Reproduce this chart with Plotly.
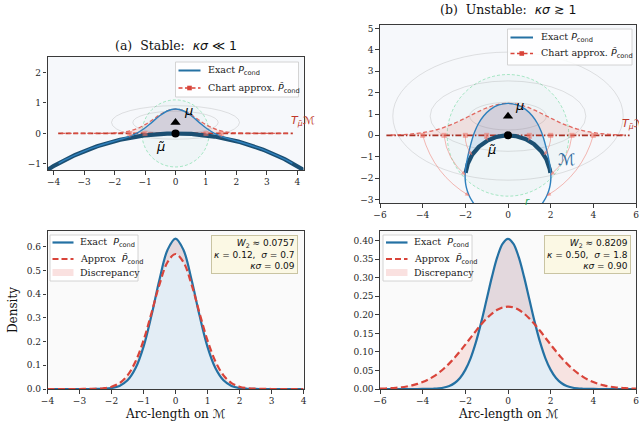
import numpy as np
import plotly.graph_objects as go

W, H = 639, 428

# ------------------------------------------------------------------ data
arc_a = np.arange(-4, 4.001, 0.25)
exact_a = [0, 0, 0, 0, 0, 0, 0.0002, 0.0011, 0.0040, 0.0130, 0.0366, 0.0874, 0.178, 0.311, 0.462, 0.587,
           0.635,
           0.587, 0.462, 0.311, 0.178, 0.0874, 0.0366, 0.0130, 0.0040, 0.0011, 0.0002, 0, 0, 0, 0, 0, 0]
approx_a = [0, 0, 0, 0, 0.0001, 0.0003, 0.0010, 0.0033, 0.0096, 0.0250, 0.0574, 0.116, 0.205, 0.321, 0.442, 0.535,
            0.570,
            0.535, 0.442, 0.321, 0.205, 0.116, 0.0574, 0.0250, 0.0096, 0.0033, 0.0010, 0.0003, 0.0001, 0, 0, 0, 0]

arc_b = np.arange(-6, 6.001, 0.25)
exact_b = [0, 0, 0, 0, 0, 0, 0, 0, 0.0001, 0.0003, 0.0007, 0.0017, 0.0039, 0.0082, 0.0162, 0.0298, 0.0515,
           0.0835, 0.127, 0.181, 0.242, 0.303, 0.356, 0.392,
           0.405,
           0.392, 0.356, 0.303, 0.242, 0.181, 0.127, 0.0835, 0.0515, 0.0298, 0.0162, 0.0082, 0.0039, 0.0017,
           0.0007, 0.0003, 0.0001, 0, 0, 0, 0, 0, 0, 0, 0]
approx_b = [0.0009, 0.0014, 0.0021, 0.0032, 0.0047, 0.0068, 0.0098, 0.0137, 0.0188, 0.0253, 0.0335, 0.0435,
            0.0554, 0.0691, 0.0846, 0.1016, 0.1197, 0.1384, 0.1569, 0.1744, 0.1903, 0.2035, 0.2136, 0.2199,
            0.222,
            0.2199, 0.2136, 0.2035, 0.1903, 0.1744, 0.1569, 0.1384, 0.1197, 0.1016, 0.0846, 0.0691, 0.0554,
            0.0435, 0.0335, 0.0253, 0.0188, 0.0137, 0.0098, 0.0068, 0.0047, 0.0032, 0.0021, 0.0014, 0.0009]

kappa = [0.125, 0.50]
sigma = [0.7, 1.8]
w2 = [0.0757, 0.8209]
titles = ["(a)  Stable:  ", "(b)  Unstable:  "]
title_sym = ["≪", "≳"]
bump_height = [0.8, 1.5]
mu_height = [0.36, 0.9]
chart_radius = [1.1, 2.85]
contours_a = [(2.1, 0.55), (1.4, 0.37)]
contours_b = [(5.4, 3.0), (3.65, 1.65), (1.8, 0.65)]
tangent_half = [3.85, 5.7]
tangent_pts_a = [-1.5, -1.0, 1.0, 1.5]
tangent_pts_b = [-4, -3, -2, -1, 1, 2, 3, 4]
manifold_half_arc = [5.0, 2.9]

# ------------------------------------------------------------------ style
SERIF = "DejaVu Serif"
SANS = "DejaVu Sans"
C_MAN = "#1b4f72"
C_EXACT = "#2e80bd"
C_EXACT_B = "#2471a3"
C_APPROX = "#d9443a"
C_TAN = ["#c0392b", "#a93226"]
C_ARROW = "rgba(236,112,99,0.55)"


def m(s, italic=True):
    t = f"<i>{s}</i>" if italic else s
    return f'<span style="font-family:{SANS}">{t}</span>'


def px(x):
    return x / W


def py(y):
    return 1 - y / H


fig = go.Figure()
shapes = []
legend_shapes = []
annos = []

dom_x = [[px(47.5), px(303.5)], [px(380), px(636)]]
dom_top = [[py(170), py(57)], [py(203), py(25)]]
dom_bot = [py(389), py(231)]


def top_panel(i, xa, ya, arc, exact, approx, contours, tpts):
    R = 1.0 / kappa[i]
    s = np.asarray(arc, float)
    ex = np.asarray(exact, float)
    ap = np.asarray(approx, float)
    h_ex = bump_height[i] * ex / ex.max()
    h_ap = bump_height[i] * ap / ap.max()
    th = s / R
    off_x = (R + h_ex) * np.sin(th)
    off_y = -R + (R + h_ex) * np.cos(th)
    man_x = R * np.sin(th)
    man_y = -R + R * np.cos(th)
    kw = dict(xaxis=xa, yaxis=ya, hoverinfo="skip", showlegend=False)
    xr, yr = xa, ya

    shapes.append(dict(type="rect", xref=f"{xr} domain", yref=f"{yr} domain", x0=0, x1=1, y0=0, y1=1,
                       fillcolor="#f6f8fb", line=dict(width=0), layer="below"))
    r = chart_radius[i]
    shapes.append(dict(type="circle", xref=xr, yref=yr, x0=-r, x1=r, y0=-r, y1=r,
                       line=dict(color="rgba(46,204,113,0.45)", width=0.9, dash="3px,2px"),
                       fillcolor="rgba(130,210,180,0.06)", layer="below"))
    for a, b in contours:
        shapes.append(dict(type="circle", xref=xr, yref=yr, x0=-a, x1=a,
                           y0=mu_height[i] - b, y1=mu_height[i] + b,
                           line=dict(color="rgba(140,140,140,0.3)", width=0.8), layer="below"))

    mt = np.abs(s) <= tangent_half[i]
    fig.add_trace(go.Scatter(x=s[mt], y=h_ap[mt], mode="none", fill="tozeroy",
                             fillcolor="rgba(231,76,60,0.13)", **kw))
    fig.add_trace(go.Scatter(x=np.r_[off_x, man_x[::-1]], y=np.r_[off_y, man_y[::-1]], mode="none",
                             fill="toself", fillcolor="rgba(52,120,200,0.14)", **kw))

    th_ = tangent_half[i]
    fig.add_trace(go.Scatter(x=[-th_, th_], y=[0, 0], mode="lines",
                             line=dict(color=C_TAN[i], width=1.6,
                                       dash="5px,2.5px" if i == 0 else "6px,2px,1.5px,2px"), **kw))
    fig.add_trace(go.Scatter(x=s[mt], y=h_ap[mt], mode="lines",
                             line=dict(color="rgba(222,80,70,0.85)", width=1.3, dash="4px,2.5px",
                                       shape="spline"), **kw))

    tt = np.linspace(-manifold_half_arc[i] / R, manifold_half_arc[i] / R, 200)
    fig.add_trace(go.Scatter(x=R * np.sin(tt), y=-R + R * np.cos(tt), mode="lines",
                             line=dict(color=C_MAN, width=4.2), **kw))
    fig.add_trace(go.Scatter(x=off_x, y=off_y, mode="lines",
                             line=dict(color=C_EXACT, width=1.4, shape="spline"), **kw))

    for t in tpts:
        x0, y0 = t, 0.0
        x1, y1 = R * np.sin(t / R), -R + R * np.cos(t / R)
        dx, dy = x1 - x0, y1 - y0
        f = -0.2 * np.sign(t)
        cx, cy = (x0 + x1) / 2 + f * dy, (y0 + y1) / 2 - f * dx
        shapes.append(dict(type="path", xref=xr, yref=yr,
                           path=f"M {x0},{y0} Q {cx},{cy} {x1},{y1}",
                           line=dict(color=C_ARROW, width=0.9), layer="above"))
        ux, uy = x1 - cx, y1 - cy
        n = np.hypot(ux, uy)
        L = min(0.3, n)
        annos.append(dict(x=x1, y=y1, ax=x1 - ux / n * L, ay=y1 - uy / n * L, xref=xr, yref=yr,
                          axref=xr, ayref=yr, text="", showarrow=True, arrowhead=2, arrowsize=0.9,
                          arrowwidth=0.9, arrowcolor=C_ARROW, standoff=0))
    fig.add_trace(go.Scatter(x=tpts, y=[0] * len(tpts), mode="markers",
                             marker=dict(symbol="square", size=5, color="rgba(236,112,99,0.55)",
                                         line=dict(width=0)), **kw))

    fig.add_trace(go.Scatter(x=[0], y=[0], mode="markers", marker=dict(color="black", size=8), **kw))
    fig.add_trace(go.Scatter(x=[0], y=[mu_height[i]], mode="markers",
                             marker=dict(color="black", size=9, symbol="triangle-up"), **kw))


top_panel(0, "x", "y", arc_a, exact_a, approx_a, contours_a, tangent_pts_a)
top_panel(1, "x2", "y2", arc_b, exact_b, approx_b, contours_b, tangent_pts_b)

lab = [
    ("x", "y", 0.42, 0.75, m("μ"), "black", 13, "center"),
    ("x", "y", -0.5, -0.42, m("μ̃"), "black", 13, "center"),
    ("x", "y", 4.33, -0.74, m("ℳ", False), "#2e6b9e", 16, "center"),
    ("x", "y", 3.72, 0.4, m("T") + m("<sub>μ̃</sub>") + m("ℳ", False), "#c0392b", 11, "left"),
    ("x", "y", 0.5, -1.36, m("r"), "#27ae60", 10, "center"),
    ("x2", "y2", 0.55, 1.4, m("μ"), "black", 13, "center"),
    ("x2", "y2", -0.78, -0.68, m("μ̃"), "black", 13, "center"),
    ("x2", "y2", 2.75, -1.14, m("ℳ", False), "#2e6b9e", 16, "center"),
    ("x2", "y2", 5.25, 0.55, m("T") + m("<sub>μ̃</sub>") + m("ℳ", False), "#c0392b", 11, "left"),
    ("x2", "y2", 0.92, -3.1, m("r"), "#27ae60", 10, "center"),
]
for xr, yr, x, y, t, c, sz, xan in lab:
    annos.append(dict(x=x, y=y, xref=xr, yref=yr, text=t, showarrow=False, xanchor=xan, yanchor="middle",
                      font=dict(color=c, size=sz, family=SANS)))


def bottom_panel(i, xa, ya, arc, exact, approx):
    kw = dict(xaxis=xa, yaxis=ya, hoverinfo="skip", showlegend=False)
    fig.add_trace(go.Scatter(x=arc, y=exact, mode="none", fill="tozeroy",
                             fillcolor="rgba(93,160,220,0.14)", line=dict(shape="spline"), **kw))
    fig.add_trace(go.Scatter(x=arc, y=approx, mode="none", fill="tonexty",
                             fillcolor="rgba(231,76,60,0.13)", line=dict(shape="spline"), **kw))
    fig.add_trace(go.Scatter(x=arc, y=exact, mode="lines",
                             line=dict(color=C_EXACT_B, width=2.2, shape="spline"), **kw))
    fig.add_trace(go.Scatter(x=arc, y=approx, mode="lines",
                             line=dict(color=C_APPROX, width=2.2, dash="7px,3.5px", shape="spline"), **kw))
    x_right = dom_x[i][1] - px(5.5)
    txt = (m("W") + m("<sub>2</sub>", False) + m(f" ≈ {w2[i]:.4f}", False) + "<br>" +
           m("κ") + m(f" = {kappa[i]:.2f},  ", False) + m("σ") + m(f" = {sigma[i]:.1f}", False) + "<br>" +
           m("κσ") + m(f" = {kappa[i] * sigma[i]:.2f}", False))
    annos.append(dict(x=x_right, y=py(235), xref="paper", yref="paper", xanchor="right", yanchor="top",
                      text=txt, align="right", showarrow=False, bgcolor="#fbf8e4", bordercolor="#c9c4a2",
                      borderwidth=1, borderpad=2, font=dict(size=9, family=SANS, color="#111")))


bottom_panel(0, "x3", "y3", arc_a, exact_a, approx_a)
bottom_panel(1, "x4", "y4", arc_b, exact_b, approx_b)


# ------------------------------------------------------------------ hand-built legends (pixel layout)
def legend_box(x0, x1, y0, y1):
    legend_shapes.append(dict(type="rect", xref="paper", yref="paper", x0=px(x0), x1=px(x1), y0=py(y1), y1=py(y0),
                              fillcolor="rgba(255,255,255,0.85)", line=dict(color="#cfcfcf", width=0.9),
                              layer="above"))


def legend_item(kind, lx0, lx1, y, tx, text, width=2.0):
    if kind == "solid":
        legend_shapes.append(dict(type="line", xref="paper", yref="paper", x0=px(lx0), x1=px(lx1), y0=py(y), y1=py(y),
                                  line=dict(color=C_EXACT_B, width=width), layer="above"))
    elif kind in ("dash", "dashsq"):
        legend_shapes.append(dict(type="line", xref="paper", yref="paper", x0=px(lx0), x1=px(lx1), y0=py(y), y1=py(y),
                                  line=dict(color=C_APPROX, width=width,
                                            dash="4px,2.5px" if kind == "dashsq" else "6px,3px"),
                                  layer="above"))
        if kind == "dashsq":
            c = (lx0 + lx1) / 2
            legend_shapes.append(dict(type="rect", xref="paper", yref="paper", x0=px(c - 2.3), x1=px(c + 2.3),
                                      y0=py(y + 2.3), y1=py(y - 2.3), fillcolor=C_APPROX,
                                      line=dict(width=0), layer="above"))
    elif kind == "patch":
        legend_shapes.append(dict(type="rect", xref="paper", yref="paper", x0=px(lx0), x1=px(lx1), y0=py(y + 3.5),
                                  y1=py(y - 3.5), fillcolor="rgba(240,170,165,0.35)", line=dict(width=0),
                                  layer="above"))
    annos.append(dict(x=px(tx), y=py(y), xref="paper", yref="paper", xanchor="left", yanchor="middle",
                      text=text, showarrow=False, font=dict(family=SERIF, size=9.5, color="#222")))


P_EX = m("P") + m("<sub>cond</sub>", False)
P_AP = m("P̂") + m("<sub>cond</sub>", False)

legend_box(175.5, 298.5, 62, 97)
legend_item("solid", 178.5, 200.5, 70.5, 205.5, "Exact " + P_EX, 2.0)
legend_item("dashsq", 178.5, 200.5, 88, 205.5, "Chart approx. " + P_AP, 1.6)
legend_box(507.5, 632, 29, 65)
legend_item("solid", 510.5, 533, 37.5, 538.5, "Exact " + P_EX, 2.0)
legend_item("dashsq", 510.5, 533, 53.5, 538.5, "Chart approx. " + P_AP, 1.6)
legend_box(50, 138, 235, 281)
legend_item("solid", 52.5, 73.5, 242.5, 77.5, "Exact  " + P_EX, 2.2)
legend_item("dash", 52.5, 73.5, 259, 77.5, "Approx  " + P_AP, 2.2)
legend_item("patch", 52.5, 73.5, 272.5, 77.5, "Discrepancy")
legend_box(383, 472, 235, 281)
legend_item("solid", 386, 407.5, 242.5, 411.5, "Exact  " + P_EX, 2.2)
legend_item("dash", 386, 407.5, 259, 411.5, "Approx  " + P_AP, 2.2)
legend_item("patch", 386, 407.5, 272.5, 411.5, "Discrepancy")

# ------------------------------------------------------------------ titles
for i in range(2):
    cx = (dom_x[i][0] + dom_x[i][1]) / 2
    ty = [45, 10][i]
    annos.append(dict(x=cx, y=py(ty), xref="paper", yref="paper", showarrow=False, xanchor="center",
                      yanchor="middle", text=titles[i] + m("κσ") + m(f" {title_sym[i]} 1", False),
                      font=dict(family=SERIF, size=12.5, color="#111")))
    annos.append(dict(x=cx, y=py(414), xref="paper", yref="paper", showarrow=False, xanchor="center",
                      yanchor="middle", text="Arc-length on " + m("ℳ", False),
                      font=dict(family=SERIF, size=12, color="#111")))
annos.append(dict(x=px(13), y=py(310), xref="paper", yref="paper", showarrow=False, textangle=-90,
                  xanchor="center", yanchor="middle",
                  text="Density", font=dict(family=SERIF, size=12, color="#111")))

ax = dict(showline=True, mirror=True, linecolor="#3a3a3a", linewidth=1.2, ticks="outside", ticklen=3.5,
          tickwidth=0.9, tickcolor="#3a3a3a", tickfont=dict(family=SERIF, size=9, color="#262626"),
          showgrid=False, zeroline=False, automargin=False, ticklabeloverflow="allow")

fig.update_layout(
    width=W, height=H, margin=dict(l=0, r=0, t=0, b=0, autoexpand=False),
    paper_bgcolor="white", plot_bgcolor="#fafafa", showlegend=False,
    xaxis=dict(ax, domain=dom_x[0], range=[-4.2, 4.2], dtick=1, anchor="y"),
    yaxis=dict(ax, domain=dom_top[0], range=[-1.2, 2.507], dtick=1, anchor="x"),
    xaxis2=dict(ax, domain=dom_x[1], range=[-6, 6], dtick=2, anchor="y2"),
    yaxis2=dict(ax, domain=dom_top[1], range=[-3.17, 5.17], dtick=1, anchor="x2"),
    xaxis3=dict(ax, domain=dom_x[0], range=[-4, 4], dtick=1, anchor="y3"),
    yaxis3=dict(ax, domain=dom_bot, range=[0, 0.667], dtick=0.1, tickformat=".1f", anchor="x3"),
    xaxis4=dict(ax, domain=dom_x[1], range=[-6, 6], dtick=2, anchor="y4"),
    yaxis4=dict(ax, domain=dom_bot, range=[0, 0.426], dtick=0.05, tickformat=".2f", anchor="x4"),
    shapes=shapes + legend_shapes, annotations=annos,
)

fig.write_html("out.html", config={"displayModeBar": False},
               post_script="document.body.style.margin='0px';")
